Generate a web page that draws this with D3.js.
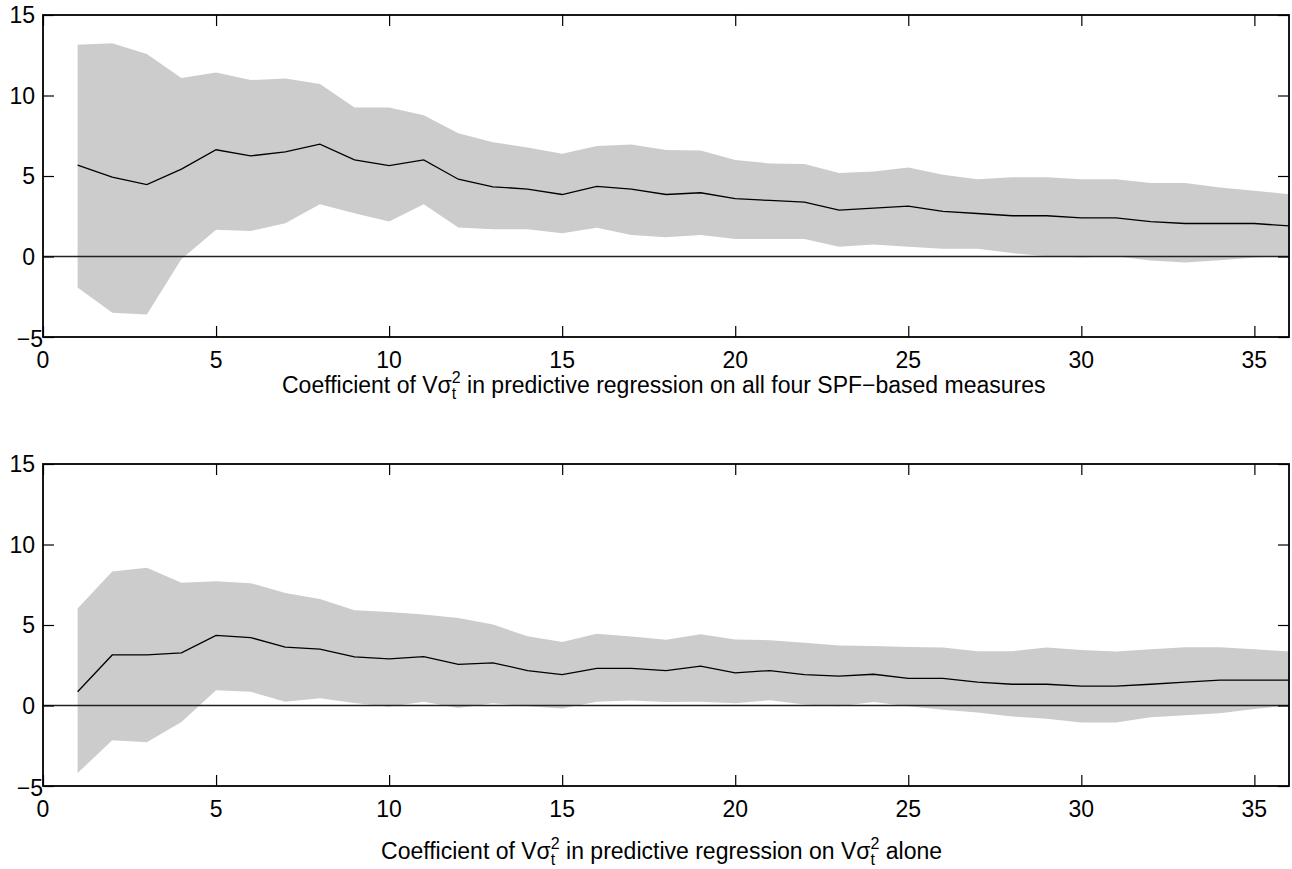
<html>
<head>
<style>
body { margin: 0; background: white; }
text { font-family: "Liberation Sans", Arial, sans-serif; }
</style>
<script src="https://d3js.org/d3.v7.min.js"></script>
</head>
<body>
<div id="chart"></div>
<script>

// horizon 1..36
var horizons = d3.range(1, 37);

// top panel: all four SPF-based measures
var topMean  = [5.68, 4.93, 4.47, 5.43, 6.63, 6.25, 6.5, 6.98, 6.0, 5.65, 6.0, 4.8, 4.33, 4.19, 3.85, 4.35, 4.19, 3.85,
                3.96, 3.6, 3.48, 3.38, 2.88, 3.0, 3.13, 2.8, 2.67, 2.53, 2.53, 2.4, 2.4, 2.17, 2.05, 2.05, 2.05, 1.9];
var topUpper = [13.15, 13.25, 12.57, 11.08, 11.43, 10.96, 11.06, 10.71, 9.26, 9.26, 8.78, 7.66, 7.1, 6.77, 6.38, 6.86, 6.96, 6.61,
                6.58, 5.99, 5.78, 5.74, 5.18, 5.28, 5.53, 5.07, 4.8, 4.93, 4.93, 4.8, 4.8, 4.56, 4.56, 4.29, 4.08, 3.87];
var topLower = [-1.92, -3.5, -3.6, -0.16, 1.66, 1.58, 2.07, 3.25, 2.69, 2.17, 3.25, 1.8, 1.7, 1.7, 1.45, 1.78, 1.33, 1.2,
                1.33, 1.08, 1.08, 1.08, 0.6, 0.75, 0.6, 0.48, 0.48, 0.21, 0.02, -0.06, 0.02, -0.25, -0.37, -0.23, -0.06, 0.02];

// bottom panel: V sigma^2 alone
var botMean  = [0.85, 3.14, 3.14, 3.27, 4.35, 4.22, 3.62, 3.5, 3.02, 2.9, 3.04, 2.55, 2.65, 2.17, 1.92, 2.3, 2.3, 2.17,
                2.44, 2.03, 2.17, 1.92, 1.82, 1.94, 1.68, 1.68, 1.45, 1.32, 1.32, 1.2, 1.2, 1.32, 1.45, 1.57, 1.57, 1.57];
var botUpper = [6.02, 8.32, 8.55, 7.62, 7.72, 7.6, 6.98, 6.62, 5.92, 5.8, 5.65, 5.44, 5.03, 4.3, 3.95, 4.45, 4.28, 4.08,
                4.43, 4.1, 4.06, 3.89, 3.73, 3.7, 3.64, 3.6, 3.37, 3.37, 3.6, 3.45, 3.35, 3.5, 3.62, 3.62, 3.5, 3.35];
var botLower = [-4.2, -2.16, -2.28, -1.02, 0.95, 0.85, 0.23, 0.45, 0.16, -0.08, 0.23, -0.15, 0.14, -0.04, -0.19, 0.23, 0.31, 0.21,
                0.23, 0.14, 0.33, 0.06, -0.04, 0.21, -0.04, -0.27, -0.44, -0.68, -0.83, -1.06, -1.06, -0.73, -0.6, -0.48, -0.21, 0];

var xTicks = [0, 5, 10, 15, 20, 25, 30, 35];
var yTicks = [-5, 0, 5, 10, 15];

var topLabel = ['Coefficient of V\u03c3', ' in predictive regression on all four SPF\u2212based measures'];
var botLabel = ['Coefficient of V\u03c3', ' in predictive regression on V\u03c3', ' alone'];

var width = 1292, height = 869;
var left = 43, right = 1289;

var svg = d3.select('#chart').append('svg')
    .attr('width', width)
    .attr('height', height);

var x = d3.scaleLinear().domain([0, 36]).range([left, right]);

// axis title, sigma with stacked _t and ^2
function sigmaLabel(g, cx, yBase, chunks) {
  var fs = 23, small = 16;
  var t = g.append('text').attr('y', yBase).attr('font-size', fs).attr('x', 0);
  var carry = 0;
  chunks.forEach(function(c, i) {
    var plain = t.append('tspan').text(c);
    if (i > 0) plain.attr('dy', -6).attr('dx', carry);
    if (i < chunks.length - 1) {
      var sup = t.append('tspan').attr('font-size', small).attr('dy', -10).text('2');
      var supW = sup.node().getComputedTextLength();
      var sub = t.append('tspan').attr('font-size', small).attr('dx', -supW).attr('dy', 16).text('t');
      var subW = sub.node().getComputedTextLength();
      carry = Math.max(0, supW - subW);
    }
  });
  var w = t.node().getComputedTextLength();
  t.attr('x', cx - w / 2);
}

function drawPanel(top, bottom, mean, upper, lower) {
  var y = d3.scaleLinear().domain([-5, 15]).range([bottom, top]);
  var g = svg.append('g');
  var rows = horizons.map(function(h, i) { return {h: h, m: mean[i], u: upper[i], l: lower[i]}; });

  g.append('path')
      .datum(rows)
      .attr('d', d3.area()
        .x(function(d) { return x(d.h); })
        .y0(function(d) { return y(d.l); })
        .y1(function(d) { return y(d.u); }))
      .attr('fill', '#cccccc');

  g.append('line')
      .attr('x1', x(0)).attr('x2', x(36))
      .attr('y1', y(0)).attr('y2', y(0))
      .attr('stroke', '#222').attr('stroke-width', 1.3);

  g.append('path')
      .datum(rows)
      .attr('d', d3.line()
        .x(function(d) { return x(d.h); })
        .y(function(d) { return y(d.m); }))
      .attr('fill', 'none')
      .attr('stroke', 'black')
      .attr('stroke-width', 1.3);

  var tl = 11;
  [[d3.axisBottom(x), 'translate(0,' + bottom + ')', xTicks],
   [d3.axisTop(x), 'translate(0,' + top + ')', xTicks],
   [d3.axisLeft(y), 'translate(' + left + ',0)', yTicks],
   [d3.axisRight(y), 'translate(' + right + ',0)', yTicks]].forEach(function(a) {
    g.append('g').attr('transform', a[1])
      .call(a[0].tickValues(a[2]).tickSize(-tl).tickFormat(''))
      .call(function(s) { s.select('.domain').remove(); });
  });
  g.selectAll('.tick line').attr('stroke', 'black').attr('stroke-width', 1.2);

  g.append('rect')
      .attr('x', left).attr('y', top)
      .attr('width', right - left).attr('height', bottom - top)
      .attr('fill', 'none')
      .attr('stroke', 'black').attr('stroke-width', 1.8);

  g.selectAll('.ylab').data(yTicks).enter().append('text')
      .attr('class', 'ylab')
      .attr('x', function(d) { return d === -5 ? left : left - 8; })
      .attr('y', function(d) { return y(d) + 8 + (d === -5 ? 2 : 0); })
      .attr('text-anchor', 'end')
      .attr('font-size', 23)
      .text(function(d) { return d < 0 ? '\u2212' + Math.abs(d) : d; });

  g.selectAll('.xlab').data(xTicks).enter().append('text')
      .attr('class', 'xlab')
      .attr('x', function(d) { return x(d); })
      .attr('y', bottom + 31)
      .attr('text-anchor', 'middle')
      .attr('font-size', 23)
      .text(function(d) { return d; });

  return g;
}

var g1 = drawPanel(15, 337, topMean, topUpper, topLower);
sigmaLabel(g1, (left + right) / 2, 393, topLabel);

var g2 = drawPanel(464, 786, botMean, botUpper, botLower);
sigmaLabel(g2, (left + right) / 2, 859, botLabel);

</script>
</body>
</html>
